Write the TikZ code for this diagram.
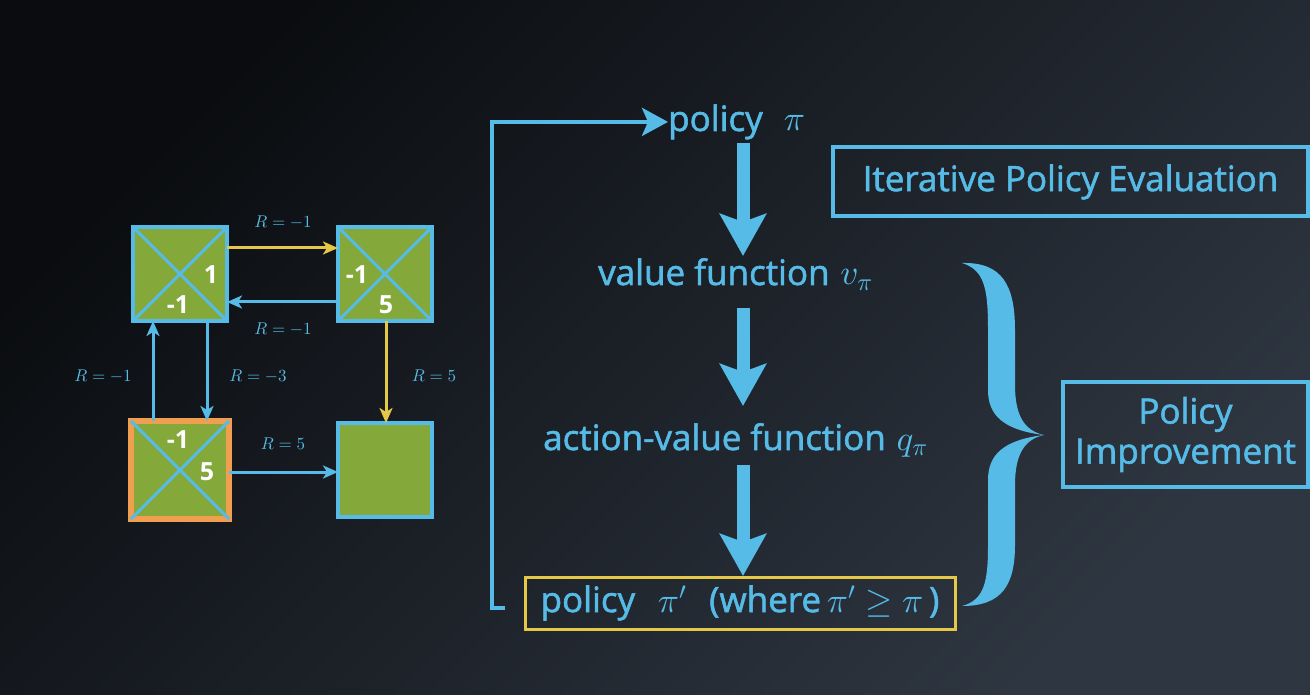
\documentclass[tikz,border=0pt]{standalone}
\usepackage[no-math]{fontspec}
\DeclareFontShape{OML}{cmm}{m}{it}{<->cmmi10}{}
\DeclareFontShape{OMS}{cmsy}{m}{n}{<->cmsy10}{}
\DeclareFontShape{OT1}{cmr}{m}{n}{<->cmr10}{}
\setmainfont{Open Sans}
\newfontfamily\mainf[FakeBold=1.6]{Open Sans}
\usetikzlibrary{arrows.meta,calc}
\definecolor{cy}{RGB}{86,187,230}
\definecolor{gr}{RGB}{132,169,58}
\definecolor{orn}{RGB}{240,158,80}
\definecolor{ylw}{RGB}{230,200,72}
\definecolor{bgdark}{RGB}{10,12,15}
\definecolor{bglight}{RGB}{46,54,65}
\begin{document}
\begin{tikzpicture}[x=1pt,y=-1pt,
  cell/.style={draw=cy,line width=4pt,fill=gr,minimum size=94pt,inner sep=0pt,outer sep=0pt},
  startcell/.style={draw=orn,line width=6pt,fill=gr,minimum size=98pt,inner sep=0pt,outer sep=0pt},
  diag/.style={draw=cy,line width=3pt},
  num/.style={text=white,font=\bfseries\fontsize{25}{25}\selectfont,inner sep=0pt},
  rlab/.style={text=cy,font=\fontsize{17}{17}\selectfont,inner sep=0pt},
  carr/.style={draw=cy,line width=3pt,-{Stealth[length=15pt,width=13pt,inset=4pt]}},
  yarr/.style={draw=ylw,line width=3pt,-{Stealth[length=15pt,width=13pt,inset=4pt]}},
  big/.style={draw=cy,line width=13pt,-{Stealth[length=42pt,width=46pt,inset=8pt]}},
  main/.style={text=cy,font=\mainf\fontsize{35}{40}\selectfont,inner sep=0pt},
  boxed/.style={draw=cy,line width=4pt,text=cy,font=\mainf\fontsize{35}{40}\selectfont,align=center,inner sep=0pt}
]
\shade[top color=bgdark,bottom color=bglight,shading angle=45] (0,0) rectangle (1310,695);
\useasboundingbox (0,0) rectangle (1310,695);

% grid cells
\node[cell] (tl) at (180,274) {};
\node[cell] (tr) at (385,274) {};
\node[startcell] (bl) at (180,470) {};
\node[cell] (br) at (385,470) {};
\foreach \c in {tl,tr,bl}{
  \draw[diag] (\c.north west) -- (\c.south east);
  \draw[diag] (\c.north east) -- (\c.south west);
}
\node[num] (n1) at (211,275) {1};
\node[num] (n2) at (178,305) {-1};
\node[num] (n3) at (357,275) {-1};
\node[num] (n4) at (386,305) {5};
\node[num] (n5) at (178,440) {-1};
\node[num] (n6) at (207,472) {5};

% grid arrows
\draw[yarr] (tl.east |- 0,248) -- (tr.west |- 0,248);
\draw[carr] (tr.west |- 0,302) -- (tl.east |- 0,302);
\draw[carr] (tl.south -| 207,0) -- (bl.north -| 207,0);
\draw[carr] (bl.north -| 153,0) -- (tl.south -| 153,0);
\draw[yarr] (tr.south -| 386,0) -- (br.north -| 386,0);
\draw[carr] (bl.east |- 0,472) -- (br.west |- 0,472);

\node[rlab] (r1) at (283,222) {$R=-1$};
\node[rlab] (r2) at (283,329) {$R=-1$};
\node[rlab] (r3) at (258,376) {$R=-3$};
\node[rlab] (r4) at (103,376) {$R=-1$};
\node[rlab] (r5) at (434,376) {$R=5$};
\node[rlab] (r6) at (283,444) {$R=5$};

% flow
\node[main,anchor=base west] (p) at (668,131) {policy\hspace{0.6em}$\pi$};
\node[main,anchor=base west] (v) at (598,285) {value function\hspace{0.05em} $v_\pi$};
\node[main,anchor=base west] (q) at (543,450) {action-value function\hspace{0.05em} $q_\pi$};
\node[draw=ylw,line width=3pt,text=cy,font=\mainf\fontsize{35}{40}\selectfont,minimum width=430pt,minimum height=52pt,inner sep=0pt] (pp) at (740,603) {policy\hspace{0.65em}$\pi'$\hspace{0.65em}(where\,$\pi'\geq\pi$\,)};

\draw[big] (743,143) -- (743,256);
\draw[big] (743,308) -- (743,406);
\draw[big] (743,465) -- (743,576);

\coordinate (loopstart) at (505,608);
\draw[cy,line width=4pt,-{Stealth[length=26pt,width=28pt,inset=6pt]}] (loopstart) -- (492,608) |- (p.west);

% boxes
\node[boxed,minimum width=475pt,minimum height=69pt] (ipe) at (1070.5,182) {Iterative Policy Evaluation};
\node[boxed,minimum width=245pt,minimum height=105pt] (pi) at (1185.5,434.5) {Policy\\Improvement};

% brace
\fill[cy] (962,263) .. controls (1002,262) and (1015,285) .. (1015,330) -- (1015,385)
  .. controls (1015,418) and (1026,431) .. (1044,435)
  .. controls (1026,439) and (1015,452) .. (1015,485) -- (1015,545)
  .. controls (1015,585) and (1002,606) .. (962,606)
  .. controls (985,600) and (988,580) .. (988,545) -- (988,480)
  .. controls (988,455) and (1003,440) .. (1044,435)
  .. controls (1003,430) and (988,415) .. (988,390) -- (988,330)
  .. controls (988,290) and (985,270) .. (962,263) -- cycle;
\end{tikzpicture}
\end{document}
